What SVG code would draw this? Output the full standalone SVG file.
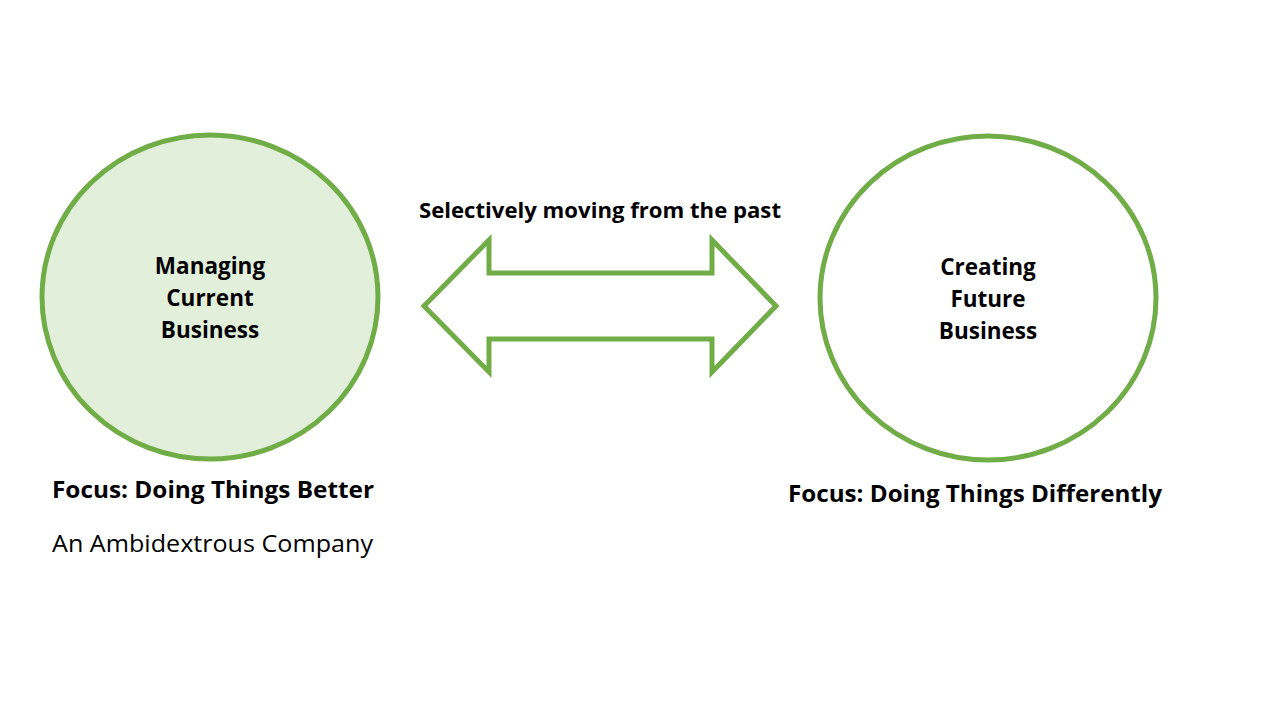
<svg xmlns="http://www.w3.org/2000/svg" width="1280" height="720" viewBox="0 0 1280 720">
<style>
.c{stroke:#70ad47;stroke-width:5}
.b{font-family:"Open Sans","Liberation Sans",sans-serif;font-weight:bold;fill:#000}
.r{font-family:"Open Sans","Liberation Sans",sans-serif;font-weight:normal;fill:#000}
</style>
<rect width="1280" height="720" fill="#fff"/>
<g id="current">
<ellipse class="c" cx="210" cy="297" rx="168" ry="162" fill="#e2efda"/>
<text class="b" font-size="22.5" text-anchor="middle"><tspan x="210" y="274">Managing</tspan><tspan x="210" y="306">Current</tspan><tspan x="210" y="338">Business</tspan></text>
</g>
<g id="future">
<ellipse class="c" cx="988" cy="298" rx="168" ry="162" fill="#fff"/>
<text class="b" font-size="22.5" text-anchor="middle"><tspan x="988" y="275">Creating</tspan><tspan x="988" y="307">Future</tspan><tspan x="988" y="339">Business</tspan></text>
</g>
<g id="connectors">
<polygon class="c" fill="#fff" points="424,306 489,240 489,273 712,273 712,240 776,306 712,372 712,339 489,339 489,372"/>
<text class="b" font-size="21" x="419" y="218" textLength="362" lengthAdjust="spacingAndGlyphs">Selectively moving from the past</text>
</g>
<text class="b" font-size="23" x="52" y="498" textLength="322" lengthAdjust="spacingAndGlyphs">Focus: Doing Things Better</text>
<text class="r" font-size="23" x="52" y="552" textLength="321" lengthAdjust="spacingAndGlyphs">An Ambidextrous Company</text>
<text class="b" font-size="23" x="788" y="502" textLength="374" lengthAdjust="spacingAndGlyphs">Focus: Doing Things Differently</text>
</svg>
